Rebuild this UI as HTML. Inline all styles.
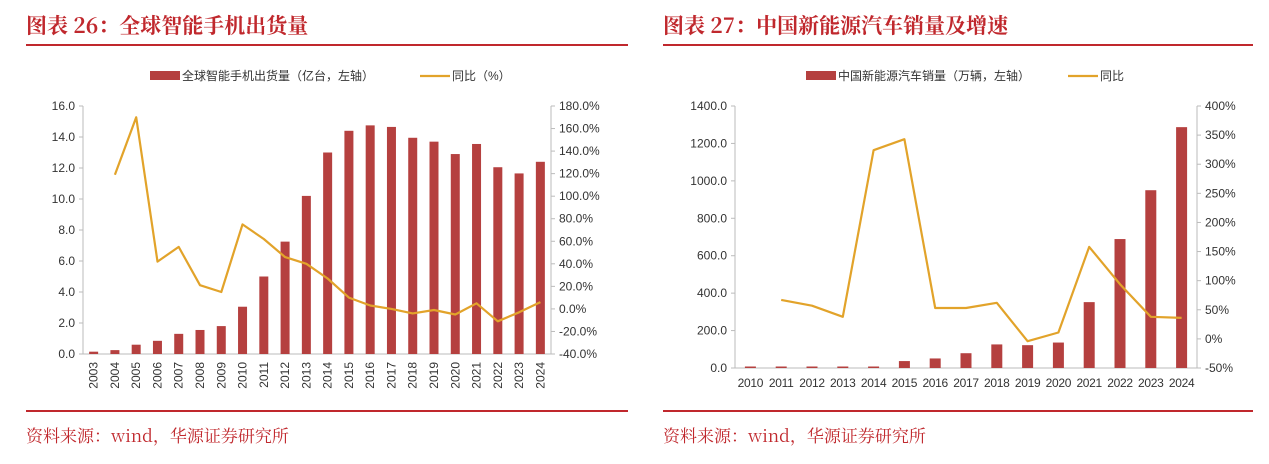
<!DOCTYPE html>
<html><head><meta charset="utf-8">
<style>
body{margin:0;background:#fff;width:1269px;height:464px;overflow:hidden;font-family:"Liberation Sans","Noto Sans CJK SC",sans-serif;}
svg{position:absolute;left:0;top:0;}
</style></head>
<body>
<svg id="s" width="1269" height="464" xmlns="http://www.w3.org/2000/svg">
<text x="26" y="33" font-size="21" font-weight="bold" fill="#C0282D" font-family="'Noto Serif CJK SC','Liberation Serif',serif">图表 26：全球智能手机出货量</text>
<line x1="26" y1="45" x2="628" y2="45" stroke="#C0282D" stroke-width="2"/>
<text x="663" y="33" font-size="21" font-weight="bold" fill="#C0282D" font-family="'Noto Serif CJK SC','Liberation Serif',serif">图表 27：中国新能源汽车销量及增速</text>
<line x1="663" y1="45" x2="1253" y2="45" stroke="#C0282D" stroke-width="2"/>
<line x1="26" y1="411" x2="628" y2="411" stroke="#C0282D" stroke-width="2"/>
<line x1="663" y1="411" x2="1253" y2="411" stroke="#C0282D" stroke-width="2"/>
<text x="26" y="442" font-size="17" fill="#C0282D" font-family="'Noto Serif CJK SC','Liberation Mono',serif">资料来源：wind，华源证券研究所</text>
<text x="663" y="442" font-size="17" fill="#C0282D" font-family="'Noto Serif CJK SC','Liberation Mono',serif">资料来源：wind，华源证券研究所</text>
<g id="c1"></g><g id="c2"></g>
</svg>
<script>
const cats1=["2003","2004","2005","2006","2007","2008","2009","2010","2011","2012","2013","2014","2015","2016","2017","2018","2019","2020","2021","2022","2023","2024"];
const bars1=[0.15,0.25,0.6,0.85,1.3,1.55,1.8,3.05,5.0,7.25,10.2,13.0,14.4,14.75,14.65,13.95,13.7,12.9,13.55,12.05,11.65,12.4];
const yoy1=[null,119,170,42,55,21,15,75,62,46,40,27,10,3,0,-4,-1,-5,5,-11,-3,6];
const lt1=["0.0","2.0","4.0","6.0","8.0","10.0","12.0","14.0","16.0"];
const rt1=["-40.0%","-20.0%","0.0%","20.0%","40.0%","60.0%","80.0%","100.0%","120.0%","140.0%","160.0%","180.0%"];
const cats2=["2010","2011","2012","2013","2014","2015","2016","2017","2018","2019","2020","2021","2022","2023","2024"];
const bars2=[8,8,8,8,8,37,51,79,126,122,136,352,689,950,1287];
const yoy2=[null,67,57,38,324,343,53,53,62,-4,11,158,94,38,36];
const lt2=["0.0","200.0","400.0","600.0","800.0","1000.0","1200.0","1400.0"];
const rt2=["-50%","0%","50%","100%","150%","200%","250%","300%","350%","400%"];
const NS="http://www.w3.org/2000/svg";
function mk(p,t,a,txt){const e=document.createElementNS(NS,t);for(const k in a)e.setAttribute(k,a[k]);if(txt!=null)e.textContent=txt;p.appendChild(e);return e;}
function draw(g,o){
  const {cats,bars,yoy,lt,rt,x0,x1,yT,yB,lmin,lmax,rmin,rmax,rot,bw,leg}=o;
  const step=(x1-x0)/cats.length;
  const xc=i=>x0+step*(i+0.5);
  const yl=v=>yB-(v-lmin)/(lmax-lmin)*(yB-yT);
  const yr=v=>yB-(v-rmin)/(rmax-rmin)*(yB-yT);
  let e;
  e=mk(g,"line",{x1:x0,y1:yT,x2:x0,y2:yB,stroke:"#bbb"});
  
  
  e=mk(g,"line",{x1:x1,y1:yT,x2:x1,y2:yB,stroke:"#bbb"});
  
  
  e=mk(g,"line",{x1:x0,y1:yB,x2:x1,y2:yB,stroke:"#bbb"});
  
  
  lt.forEach(t=>{const y=yl(parseFloat(t));
    mk(g,"line",{x1:x0-4,y1:y,x2:x0,y2:y,stroke:"#bbb"});
    e=mk(g,"text",{x:x0-8,y:y+4,"font-size":12,fill:"#333","text-anchor":"end"},t);
    
    });
  rt.forEach(t=>{const y=yr(parseFloat(t));
    mk(g,"line",{x1:x1,y1:y,x2:x1+4,y2:y,stroke:"#bbb"});
    e=mk(g,"text",{x:x1+8,y:y+4,"font-size":12,fill:"#333"},t);
    
    });
  cats.forEach((c,i)=>{
    const h=yB-yl(bars[i]);
    e=mk(g,"rect",{x:xc(i)-bw/2,y:yB-h,width:bw,height:h,fill:"#B5403F"});
    
    
    if(rot){e=mk(g,"text",{x:0,y:0,"font-size":12,fill:"#333","text-anchor":"end",transform:`translate(${xc(i)+4},${yB+8}) rotate(-90)`},c);}
    else{e=mk(g,"text",{x:xc(i),y:yB+19,"font-size":12,fill:"#333","text-anchor":"middle","letter-spacing":"-0.3"},c);}
    
    
  });
  let d="";yoy.forEach((v,i)=>{if(v==null)return;d+=(d?"L":"M")+xc(i).toFixed(1)+","+yr(v).toFixed(1);});
  e=mk(g,"path",{d:d,fill:"none",stroke:"#E2A32A","stroke-width":2.2,"stroke-linejoin":"round"});
  
  
  const [lx,ly,l1,l2,gap]=leg;
  e=mk(g,"rect",{x:lx,y:ly-5,width:30,height:9,fill:"#B5403F"});
  
  
  e=mk(g,"text",{x:lx+32,y:ly+4,"font-size":12,fill:"#333"},l1);
  
  
  e=mk(g,"line",{x1:lx+gap,y1:ly,x2:lx+gap+30,y2:ly,stroke:"#E2A32A","stroke-width":2.2});
  
  
  e=mk(g,"text",{x:lx+gap+32,y:ly+4,"font-size":12,fill:"#333"},l2);
  
  
}
draw(document.getElementById("c1"),{cats:cats1,bars:bars1,yoy:yoy1,lt:lt1,rt:rt1,x0:83,x1:551,yT:106,yB:354,lmin:0,lmax:16,rmin:-40,rmax:180,rot:true,bw:9,leg:[150,76,"全球智能手机出货量（亿台，左轴）","同比（%）",270]});
draw(document.getElementById("c2"),{cats:cats2,bars:bars2,yoy:yoy2,lt:lt2,rt:rt2,x0:735,x1:1197,yT:106,yB:368,lmin:0,lmax:1400,rmin:-50,rmax:400,rot:false,bw:11,leg:[806,76,"中国新能源汽车销量（万辆，左轴）","同比",262]});
</script>
</body></html>
